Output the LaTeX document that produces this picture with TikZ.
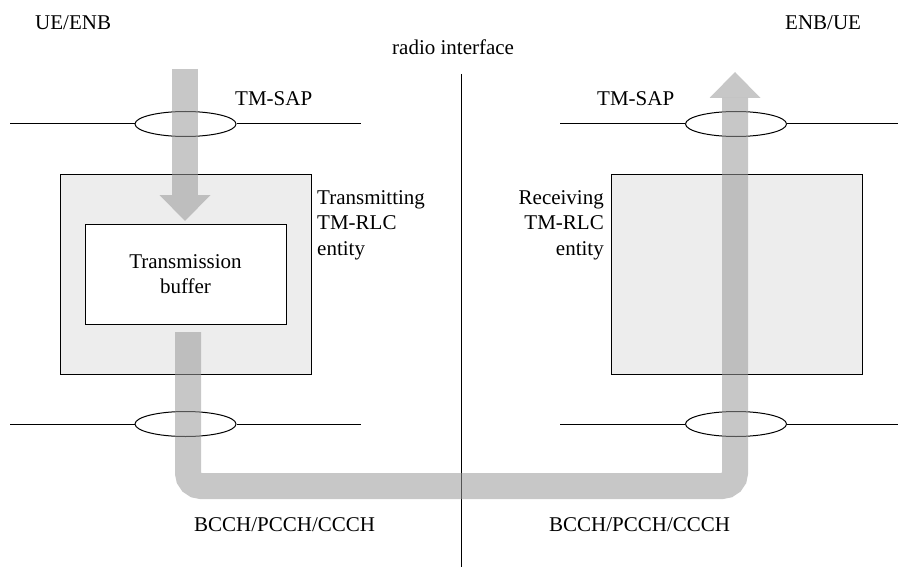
\documentclass[tikz,border=0pt]{standalone}
\usepackage{fontspec}
\setmainfont{Liberation Serif}
\usetikzlibrary{shapes.geometric,arrows.meta}

\begin{document}
\begin{tikzpicture}[x=1pt,y=-1pt,
    every node/.style={font=\fontsize{21}{25.5}\selectfont,inner sep=0pt},
    sap/.style={draw,ellipse,line width=1pt,minimum width=101pt,minimum height=25pt},
    entity/.style={draw,line width=1pt,fill=black!7,minimum width=251pt,minimum height=200pt},
    layer/.style={line width=1pt},
    flow/.style={line width=26pt,draw=black!40,opacity=0.55,
        -{Triangle[width=51pt,length=26pt,line width=0pt]}}]
    \useasboundingbox (0,0) rectangle (899,567);
    \coordinate (lt0) at (10,124);
    \coordinate (lt1) at (361,124);
    \coordinate (lb0) at (10,424);
    \coordinate (lb1) at (361,424);
    \coordinate (rt0) at (560,124);
    \coordinate (rt1) at (898,124);
    \coordinate (rb0) at (560,424);
    \coordinate (rb1) at (898,424);
    \coordinate (air0) at (461,74);
    \coordinate (air1) at (461,567);
    \coordinate (inL) at (185,69);
    \coordinate (inLtip) at (185,221);
    \coordinate (outL) at (188,332);
    \coordinate (bend) at (735,486);
    \coordinate (outRtip) at (735,72);
    \node[anchor=base west] (ueL) at (35,30) {UE/ENB};
    \node[anchor=base west] (ueR) at (785,30) {ENB/UE};
    \node[anchor=base west] (air) at (392,55) {radio interface};
    \node[anchor=base west] (tmL) at (235,106) {TM-SAP};
    \node[anchor=base west] (tmR) at (597,106) {TM-SAP};
    \node[anchor=base west] (chL) at (194,531) {BCCH/PCCH/CCCH};
    \node[anchor=base west] (chR) at (549,531) {BCCH/PCCH/CCCH};
    \draw[layer] (air0) -- (air1);
    \node[sap] (sapTL) at (185.5,124) {};
    \node[sap] (sapBL) at (185.5,424) {};
    \node[sap] (sapTR) at (736,124) {};
    \node[sap] (sapBR) at (736,424) {};
    \draw[layer] (lt0) -- (sapTL.west) (sapTL.east) -- (lt1);
    \draw[layer] (lb0) -- (sapBL.west) (sapBL.east) -- (lb1);
    \draw[layer] (rt0) -- (sapTR.west) (sapTR.east) -- (rt1);
    \draw[layer] (rb0) -- (sapBR.west) (sapBR.east) -- (rb1);
    \node[entity] (entL) at (185.5,274) {};
    \node[entity] (entR) at (736.5,274) {};
    \node[draw,line width=1pt,fill=white,minimum width=201pt,minimum height=100pt,align=center] (buf) at (185.5,274) {Transmission\\buffer};
    \node[anchor=west,align=left] (txL) at (317,225) {Transmitting\\TM-RLC\\entity};
    \node[anchor=east,align=right] (rxR) at (604,225) {Receiving\\TM-RLC\\entity};
    \draw[flow] (inL) -- (inLtip);
    \draw[flow,rounded corners=13pt] (outL) |- (bend) -- (outRtip);
\end{tikzpicture}
\end{document}
